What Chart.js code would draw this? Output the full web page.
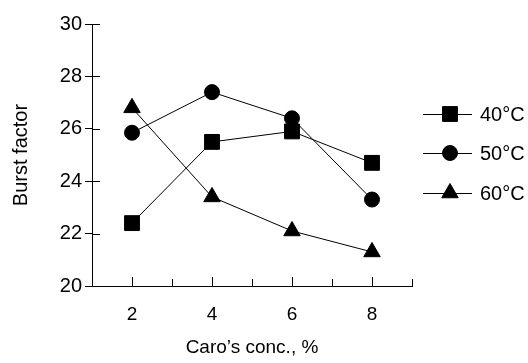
<!DOCTYPE html>
<html>
<head>
<meta charset="utf-8">
<script src="https://cdn.jsdelivr.net/npm/chart.js@4/dist/chart.umd.min.js"></script>
<style>
  html, body { margin: 0; padding: 0; background: #fff; }
  #wrap { width: 528px; height: 363px; }
</style>
</head>
<body>
<div id="wrap"><canvas id="chart" width="528" height="363"></canvas></div>
<script>
// values
const conc = [2, 4, 6, 8];
const burst40 = [22.4, 25.5, 25.9, 24.7];
const burst50 = [25.85, 27.4, 26.4, 23.3];
const burst60 = [26.8, 23.4, 22.1, 21.3];
const seriesNames = ['40°C', '50°C', '60°C'];
const yTicks = [20, 22, 24, 26, 28, 30];

const FONT = "'Liberation Sans', Arial, Helvetica, sans-serif";

function pts(ys) {
    return conc.map(function(c, i){ return {x: c, y: ys[i]}; });
}

function series(label, ys, style, radius) {
    return {
        label: label,
        data: pts(ys),
        borderColor: '#000',
        borderWidth: 1,
        backgroundColor: '#000',
        pointStyle: style,
        pointRadius: radius,
        pointHoverRadius: radius,
        pointBackgroundColor: '#000',
        pointBorderColor: '#000',
        tension: 0,
        clip: false
    };
}

// tick marks that point into the plot
const innerTicks = {
    id: 'innerTicks',
    afterDraw(chart) {
        const ctx = chart.ctx;
        const xs = chart.scales.x, ys = chart.scales.y;
        ctx.save();
        ctx.strokeStyle = '#000';
        ctx.lineWidth = 1;
        ctx.beginPath();
        xs.ticks.forEach(function(t){
            const px = Math.round(xs.getPixelForValue(t.value)) + 0.5;
            const len = t.value % 2 === 0 ? 9 : 7;
            ctx.moveTo(px, xs.top);
            ctx.lineTo(px, xs.top - len);
        });
        ys.ticks.forEach(function(t){
            const py = Math.round(ys.getPixelForValue(t.value)) + 0.5;
            ctx.moveTo(ys.right, py);
            ctx.lineTo(ys.right + 8, py);
        });
        ctx.stroke();
        ctx.restore();
    }
};

// legend drawn at the right, line through marker
const sideLegend = {
    id: 'sideLegend',
    afterDraw(chart, args, opts) {
        const ctx = chart.ctx;
        ctx.save();
        chart.data.datasets.forEach(function(ds, i){
            const y = opts.rows[i];
            ctx.strokeStyle = '#000';
            ctx.lineWidth = 1;
            ctx.beginPath();
            ctx.moveTo(opts.x0, y + 0.5);
            ctx.lineTo(opts.x1, y + 0.5);
            ctx.stroke();
            ctx.fillStyle = '#000';
            Chart.helpers.drawPoint(ctx, {pointStyle: ds.pointStyle, radius: ds.pointRadius, rotation: 0, borderWidth: 1}, opts.mx, y);
            ctx.font = '20px ' + FONT;
            ctx.textBaseline = 'middle';
            ctx.textAlign = 'left';
            ctx.fillText(ds.label, opts.tx, y + 1);
        });
        ctx.restore();
    }
};

const config = {
    type: 'line',
    data: {
        datasets: [
            series(seriesNames[0], burst40, 'rect', 10.5),
            series(seriesNames[1], burst50, 'circle', 7.5),
            series(seriesNames[2], burst60, 'triangle', 9.5)
        ]
    },
    options: {
        responsive: false,
        animation: false,
        events: [],
        layout: { padding: { left: 0, top: 24, right: 116, bottom: 0 } },
        plugins: {
            legend: { display: false },
            tooltip: { enabled: false },
            sideLegend: { x0: 423, x1: 472, mx: 450, tx: 480, rows: [114, 153, 193] }
        },
        scales: {
            x: {
                type: 'linear',
                min: 1,
                max: 9,
                afterFit: function(s){ s.height = 77; },
                border: { display: true, color: '#000', width: 1 },
                grid: { drawOnChartArea: false, drawTicks: false },
                ticks: {
                    stepSize: 1,
                    padding: 17,
                    color: '#000',
                    font: { family: FONT, size: 19 },
                    maxRotation: 0,
                    autoSkip: false,
                    callback: function(v){ return v % 2 === 0 ? v : ''; }
                },
                title: {
                    display: true,
                    text: 'Caro\u2019s conc., %',
                    color: '#000',
                    font: { family: FONT, size: 19 },
                    padding: { top: 10, bottom: 4 }
                }
            },
            y: {
                min: 20,
                max: 30,
                afterFit: function(s){ s.width = 92; },
                afterBuildTicks: function(s){ s.ticks = yTicks.map(function(v){ return {value: v}; }); },
                border: { display: true, color: '#000', width: 1 },
                grid: { drawOnChartArea: false, drawTicks: true, tickLength: 7, tickColor: '#000' },
                ticks: {
                    padding: 3,
                    color: '#000',
                    font: { family: FONT, size: 20 }
                },
                title: {
                    display: true,
                    text: 'Burst factor',
                    color: '#000',
                    font: { family: FONT, size: 20 },
                    padding: { top: 9, bottom: 0 }
                }
            }
        }
    },
    plugins: [innerTicks, sideLegend]
};

new Chart(document.getElementById('chart'), config);
</script>
</body>
</html>
